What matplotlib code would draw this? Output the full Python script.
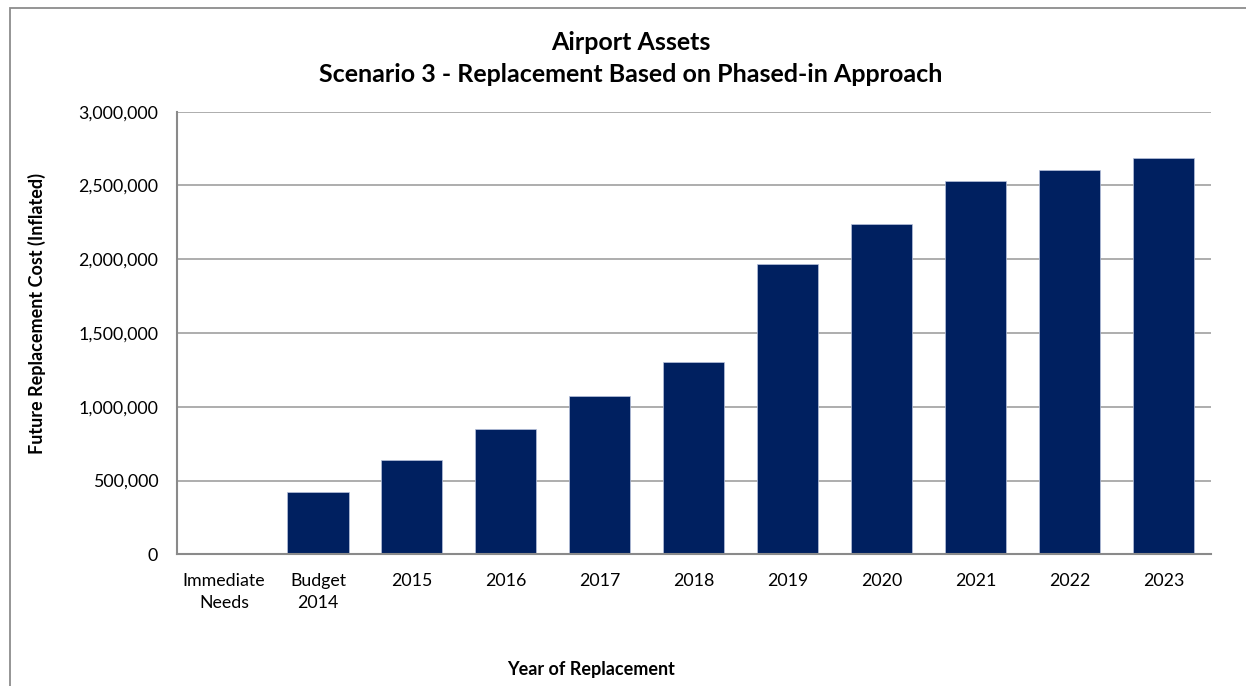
import matplotlib.pyplot as plt
import matplotlib.ticker as mticker
from matplotlib.patches import Rectangle
import numpy as np

plt.rcParams['font.family'] = ['Lato', 'DejaVu Sans']

categories = ['Immediate\nNeeds', 'Budget\n2014', '2015', '2016', '2017', '2018',
              '2019', '2020', '2021', '2022', '2023']
cost = [0, 420000, 640000, 851000, 1073000, 1306000,
        1968000, 2241000, 2528000, 2603000, 2686000]
y_ticks = [0, 500000, 1000000, 1500000, 2000000, 2500000, 3000000]

fig = plt.figure(figsize=(12.46, 6.86), dpi=100)

# chart frame (runs off the right and bottom edge)
fig.patches.append(Rectangle((10 / 1246, -0.05), 1.2, (686 - 8.5) / 686 + 0.05,
                             transform=fig.transFigure, fill=False,
                             edgecolor='#8c8c8c', linewidth=1.3))

ax = fig.add_axes([177 / 1246, (686 - 554.3) / 686,
                   (1210.7 - 177) / 1246, (554.3 - 111.7) / 686])

x = np.arange(len(categories))
ax.bar(x, cost, width=0.65, color='#002060', edgecolor='#b8c2dc',
       linewidth=0.5, zorder=3)

ax.set_xlim(-0.5, len(categories) - 0.5)
ax.set_ylim(0, 3000000)
ax.set_yticks(y_ticks)
ax.yaxis.set_major_formatter(mticker.FuncFormatter(lambda v, p: f'{int(v):,}'))
ax.set_xticks(x)
ax.set_xticklabels(categories, linespacing=1.45)
ax.tick_params(axis='both', length=0, labelsize=12.8, colors='#000000')
ax.tick_params(axis='x', pad=13.5)
ax.tick_params(axis='y', pad=13.5)

ax.grid(axis='y', color='#a0a0a0', linewidth=1.2, zorder=0)
for side in ['top', 'right']:
    ax.spines[side].set_visible(False)
for side in ['left', 'bottom']:
    ax.spines[side].set_color('#8a8a8a')
    ax.spines[side].set_linewidth(1.5)
    ax.spines[side].set_zorder(4)

fig.text(631 / 1246, 1 - 42 / 686, 'Airport Assets', ha='center', va='center',
         fontsize=18, fontweight='bold')
fig.text(631 / 1246, 1 - 75 / 686, 'Scenario 3 - Replacement Based on Phased-in Approach',
         ha='center', va='center', fontsize=18, fontweight='bold')
fig.text(37 / 1246, 1 - 314 / 686, 'Future Replacement Cost (Inflated)', rotation=90,
         ha='center', va='center', fontsize=13, fontweight='bold')
fig.text(591 / 1246, 1 - 670 / 686, 'Year of Replacement', ha='center', va='center',
         fontsize=13, fontweight='bold')

fig.savefig('out.png', dpi=100, facecolor='white')
